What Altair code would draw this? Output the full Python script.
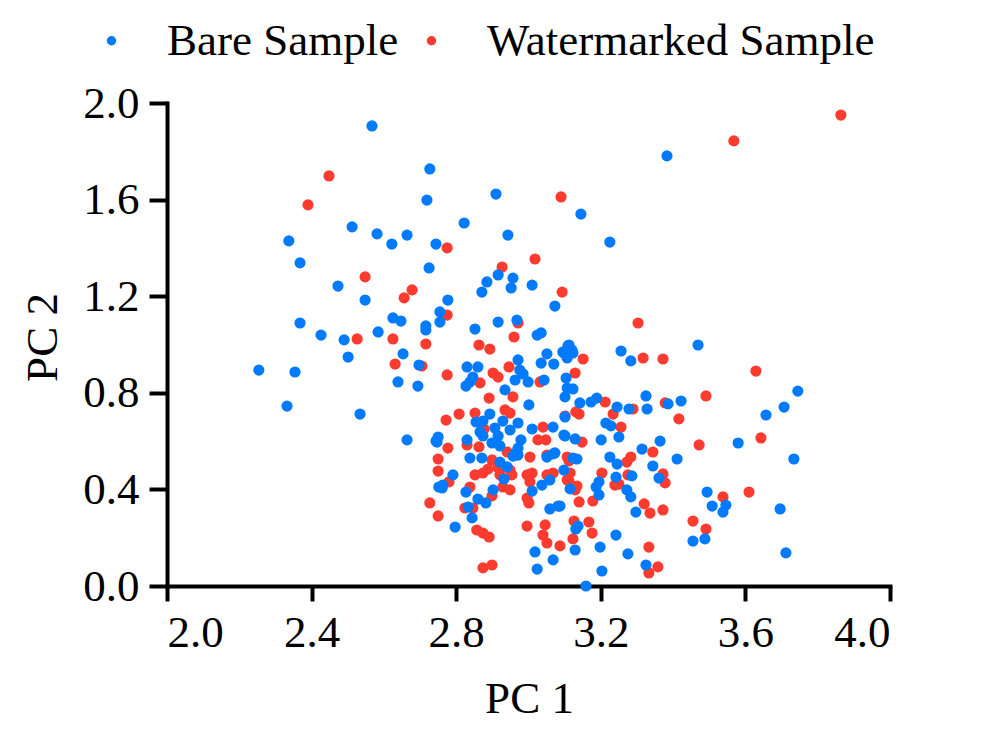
import altair as alt
import pandas as pd

bare_x = [2.567, 2.727, 2.719, 2.512, 2.581, 2.622, 2.664, 2.744, 2.337, 2.368, 2.725, 2.473, 2.548, 2.755, 2.625, 2.647,
          2.368, 2.716, 2.716, 2.755, 2.426, 2.584, 2.490, 2.910, 3.145, 2.822, 2.943, 3.225, 2.916, 2.957, 2.885, 2.952,
          3.010, 2.871, 2.777, 3.073, 2.852, 2.916, 2.968, 3.024, 3.035, 3.383, 2.653, 2.501, 2.697, 2.254, 2.354, 2.639,
          2.694, 2.332, 2.534, 2.664, 2.744, 2.752, 3.109, 3.051, 3.095, 2.971, 3.035, 3.070, 2.830, 2.860, 2.976, 2.985,
          2.846, 2.838, 2.827, 2.963, 2.999, 3.043, 3.104, 2.935, 3.101, 3.001, 2.893, 3.101, 2.855, 2.874, 2.929, 2.971,
          2.907, 2.949, 3.068, 3.010, 2.866, 2.874, 2.916, 2.750, 2.747, 2.830, 2.899, 2.921, 2.979, 3.101, 2.971, 2.965,
          3.073, 2.838, 2.871, 2.921, 2.941, 2.957, 2.971, 3.051, 3.068, 2.791, 2.763, 2.761, 2.932, 3.037, 3.059, 2.902,
          2.827, 3.010, 2.860, 2.882, 2.833, 3.059, 3.082, 2.844, 2.797, 3.018, 3.068, 3.024, 3.112, 3.120, 3.098, 3.123,
          3.107, 3.256, 3.283, 3.469, 3.107, 3.123, 3.142, 3.173, 3.189, 3.245, 3.278, 3.325, 3.328, 3.386, 3.422, 3.214,
          3.228, 3.098, 3.129, 3.201, 3.250, 3.364, 3.314, 3.225, 3.411, 3.123, 3.134, 3.245, 3.344, 3.098, 3.242, 3.286,
          3.361, 3.195, 3.187, 3.195, 3.115, 3.272, 3.283, 3.087, 3.297, 3.494, 3.508, 3.455, 3.488, 3.137, 3.131, 3.129,
          3.242, 3.198, 3.275, 3.325, 3.203, 3.159, 3.745, 3.707, 3.657, 3.580, 3.734, 3.546, 3.538, 3.696, 3.712]
bare_y = [1.905, 1.727, 1.598, 1.487, 1.458, 1.416, 1.453, 1.416, 1.429, 1.338, 1.317, 1.242, 1.184, 1.135, 1.110, 1.097,
          1.089, 1.077, 1.060, 1.093, 1.039, 1.052, 1.019, 1.623, 1.540, 1.503, 1.453, 1.424, 1.288, 1.275, 1.259, 1.234,
          1.246, 1.217, 1.184, 1.159, 1.064, 1.093, 1.101, 1.039, 1.048, 1.781, 0.961, 0.948, 0.915, 0.894, 0.886, 0.845,
          0.828, 0.745, 0.712, 0.605, 0.600, 0.410, 0.994, 0.961, 0.969, 0.936, 0.923, 0.919, 0.907, 0.907, 0.894, 0.878,
          0.865, 0.845, 0.828, 0.853, 0.845, 0.853, 0.861, 0.812, 0.783, 0.750, 0.712, 0.700, 0.679, 0.683, 0.683, 0.675,
          0.654, 0.646, 0.658, 0.650, 0.638, 0.621, 0.621, 0.617, 0.596, 0.605, 0.592, 0.580, 0.605, 0.621, 0.571, 0.551,
          0.551, 0.530, 0.530, 0.513, 0.493, 0.538, 0.542, 0.534, 0.547, 0.460, 0.418, 0.406, 0.443, 0.418, 0.439, 0.398,
          0.389, 0.393, 0.360, 0.344, 0.327, 0.319, 0.331, 0.282, 0.244, 0.141, 0.108, 0.070, 0.998, 0.977, 0.965, 0.965,
          0.944, 0.973, 0.932, 0.998, 0.820, 0.816, 0.758, 0.762, 0.778, 0.741, 0.733, 0.787, 0.733, 0.754, 0.766, 0.675,
          0.663, 0.625, 0.609, 0.605, 0.617, 0.600, 0.567, 0.534, 0.526, 0.530, 0.526, 0.505, 0.497, 0.480, 0.451, 0.456,
          0.447, 0.431, 0.410, 0.377, 0.402, 0.398, 0.369, 0.331, 0.306, 0.389, 0.331, 0.186, 0.195, 0.248, 0.236, 0.149,
          0.211, 0.161, 0.133, 0.087, 0.062, 0.000, 0.807, 0.741, 0.708, 0.592, 0.526, 0.335, 0.306, 0.319, 0.137]

wm_x = [2.448, 2.390, 2.548, 2.678, 2.656, 2.526, 2.625, 3.090, 2.775, 3.018, 2.927, 3.093, 2.775, 3.303, 2.971, 2.960,
        3.568, 3.864, 2.716, 2.631, 2.705, 2.750, 2.750, 2.727, 2.750, 2.863, 2.893, 2.946, 2.775, 2.902, 2.916, 2.866,
        3.032, 2.891, 2.957, 2.935, 2.949, 2.852, 2.808, 2.772, 3.040, 2.877, 2.830, 2.863, 3.026, 3.048, 2.777, 2.941,
        3.051, 3.004, 2.899, 2.780, 2.852, 2.874, 2.888, 2.916, 2.921, 2.949, 2.954, 2.996, 3.010, 3.051, 3.068, 3.004,
        3.107, 2.838, 2.929, 2.949, 2.899, 2.996, 3.001, 2.824, 2.846, 2.996, 3.046, 2.857, 2.874, 2.891, 3.040, 3.051,
        3.087, 2.874, 2.899, 3.151, 3.317, 3.372, 3.129, 3.212, 3.234, 3.289, 3.378, 3.491, 3.131, 3.140, 3.101, 3.416,
        3.256, 3.148, 3.472, 3.344, 3.283, 3.107, 3.112, 3.272, 3.115, 3.112, 3.203, 3.275, 3.372, 3.378, 3.239, 3.250,
        3.134, 3.129, 3.140, 3.178, 3.320, 3.336, 3.372, 3.455, 3.491, 3.126, 3.167, 3.176, 3.123, 3.333, 3.358, 3.333,
        3.629, 3.643, 3.538, 3.610]
wm_y = [1.698, 1.578, 1.280, 1.226, 1.193, 1.023, 1.023, 1.611, 1.400, 1.354, 1.321, 1.217, 1.122, 1.089, 1.089, 1.031,
        1.843, 1.950, 1.002, 0.919, 0.911, 0.526, 0.476, 0.344, 0.290, 0.998, 0.981, 0.907, 0.874, 0.882, 0.865, 0.841,
        0.845, 0.778, 0.783, 0.729, 0.716, 0.716, 0.712, 0.687, 0.658, 0.650, 0.584, 0.576, 0.605, 0.605, 0.571, 0.555,
        0.542, 0.534, 0.522, 0.431, 0.460, 0.468, 0.484, 0.489, 0.460, 0.480, 0.460, 0.460, 0.468, 0.460, 0.468, 0.431,
        0.439, 0.410, 0.410, 0.398, 0.373, 0.364, 0.344, 0.323, 0.323, 0.248, 0.253, 0.232, 0.219, 0.203, 0.211, 0.178,
        0.166, 0.075, 0.087, 0.940, 0.944, 0.940, 0.882, 0.762, 0.712, 0.733, 0.758, 0.787, 0.721, 0.712, 0.704, 0.692,
        0.658, 0.596, 0.584, 0.555, 0.534, 0.534, 0.518, 0.513, 0.468, 0.435, 0.468, 0.460, 0.464, 0.427, 0.418, 0.422,
        0.414, 0.398, 0.348, 0.352, 0.340, 0.302, 0.315, 0.269, 0.236, 0.269, 0.265, 0.219, 0.195, 0.161, 0.079, 0.054,
        0.890, 0.613, 0.369, 0.389]

series = ["Bare Sample", "Watermarked Sample"]
colors = ["#007AFF", "#FF3B30"]
x_ticks = [2.0, 2.4, 2.8, 3.2, 3.6, 4.0]
y_ticks = [0.0, 0.4, 0.8, 1.2, 1.6, 2.0]

df = pd.concat([
    pd.DataFrame({"pc1": wm_x, "pc2": wm_y, "group": series[1]}),
    pd.DataFrame({"pc1": bare_x, "pc2": bare_y, "group": series[0]}),
], ignore_index=True)

FONT = "Liberation Serif"

chart = alt.Chart(df).mark_circle(size=125, opacity=1).encode(
    x=alt.X("pc1:Q", scale=alt.Scale(domain=[2, 4], nice=False, zero=False),
            axis=alt.Axis(title="PC 1", values=x_ticks, format=".1f", tickSize=15,
                          labelPadding=9, titleX=362, titleY=126,
                          titleBaseline="alphabetic", titleAlign="center")),
    y=alt.Y("pc2:Q", scale=alt.Scale(domain=[0, 2], nice=False),
            axis=alt.Axis(title="PC 2", values=y_ticks, format=".1f", tickSize=18,
                          labelPadding=10, titleX=-111, titleY=234, titleAngle=-90,
                          titleBaseline="alphabetic", titleAlign="center")),
    color=alt.Color("group:N", scale=alt.Scale(domain=series, range=colors),
                    legend=alt.Legend(title=None, orient="none", legendX=-78, legendY=-85,
                                      direction="horizontal", columns=2, symbolType="circle",
                                      symbolSize=90, labelFont=FONT, labelFontSize=45,
                                      labelColor="black", labelOffset=33, columnPadding=10,
                                      labelLimit=0, padding=0)),
).properties(
    width=723, height=483, autosize="none",
    padding={"left": 159, "top": 95, "right": 60, "bottom": 140},
).configure_view(stroke=None).configure_axis(
    grid=False, domainColor="black", domainWidth=4, tickColor="black", tickWidth=4,
    labelFont=FONT, labelFontSize=45, labelColor="black",
    titleFont=FONT, titleFontSize=45, titleFontWeight="normal", titleColor="black",
    domainCap="square",
)

chart.save("out.html", embed_options={"renderer": "svg", "actions": False})
